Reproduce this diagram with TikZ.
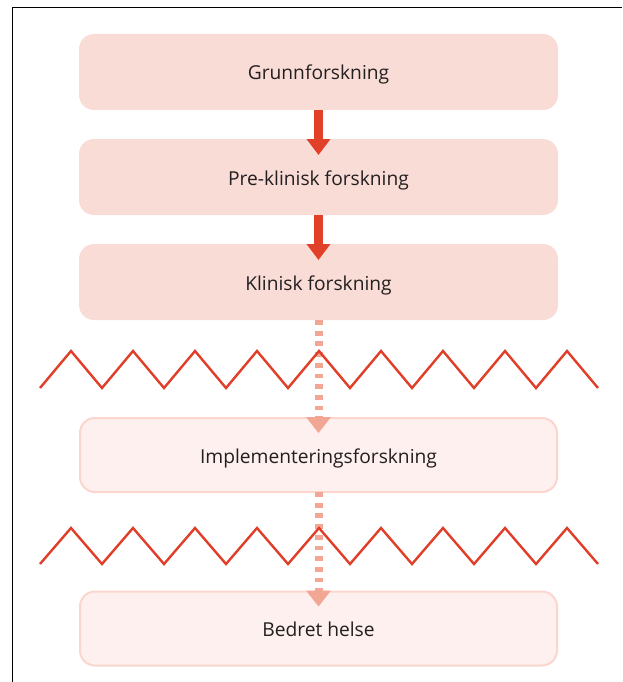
\documentclass[tikz,border=0pt]{standalone}
\usepackage{fontspec}
\setmainfont{Open Sans}
\usetikzlibrary{arrows.meta,positioning}

\definecolor{stagefill}{RGB}{250,220,214}
\definecolor{palefill}{RGB}{253,240,238}
\definecolor{paleline}{RGB}{251,214,207}
\definecolor{arrowred}{RGB}{224,65,40}
\definecolor{arrowpale}{RGB}{242,166,148}
\definecolor{zigred}{RGB}{224,62,40}
\definecolor{textgray}{RGB}{35,31,32}

\begin{document}
\begin{tikzpicture}[x=1pt, y=-1pt,
    stage/.style={rectangle, rounded corners=15pt, fill=stagefill, minimum width=479pt,
        minimum height=76pt, outer sep=0pt, text=textgray, text height=16pt, text depth=0pt,
        font=\fontsize{19.2}{22}\selectfont},
    palestage/.style={stage, fill=palefill, draw=paleline, line width=2pt,
        minimum width=477pt, minimum height=74pt},
    solidarrow/.style={draw=arrowred, line width=9pt, -{Triangle[width=23pt,length=16pt]}},
    palearrow/.style={draw=arrowpale, line width=8pt, dash pattern=on 4.8pt off 5.9pt,
        -{Triangle[width=24pt,length=16pt]}},
    zigzag/.style={draw=zigred, line width=2.4pt}]

    \useasboundingbox (0,0) rectangle (622,682);

    % Frame
    \draw[line width=1.5pt] (12.5,682) -- (12.5,7.5) -- (622,7.5);

    % Research stages
    \node[stage] (grunn) at (318.5,72) {Grunnforskning};
    \node[stage, below=29pt of grunn] (preklin) {Pre-klinisk forskning};
    \node[stage, below=29pt of preklin] (klin) {Klinisk forskning};

    % Later stages
    \node[palestage] (impl) at (318.5,455) {Implementeringsforskning};
    \node[palestage] (helse) at (318.5,628.5) {Bedret helse};

    % Arrows
    \draw[solidarrow] (grunn.south) -- ([yshift=-16pt]preklin.north);
    \draw[solidarrow] (preklin.south) -- ([yshift=-16pt]klin.north);
    \draw[palearrow] (klin.south) -- ([yshift=-15pt]impl.north);
    \draw[palearrow] (impl.south) -- ([yshift=-15pt]helse.north);

    % Barriers
    \draw[zigzag] (40,388) \foreach \k in {0,...,8} { -- (71+62*\k,351) -- (102+62*\k,388) };
    \draw[zigzag] (40,564) \foreach \k in {0,...,8} { -- (71+62*\k,528) -- (102+62*\k,564) };

\end{tikzpicture}
\end{document}
